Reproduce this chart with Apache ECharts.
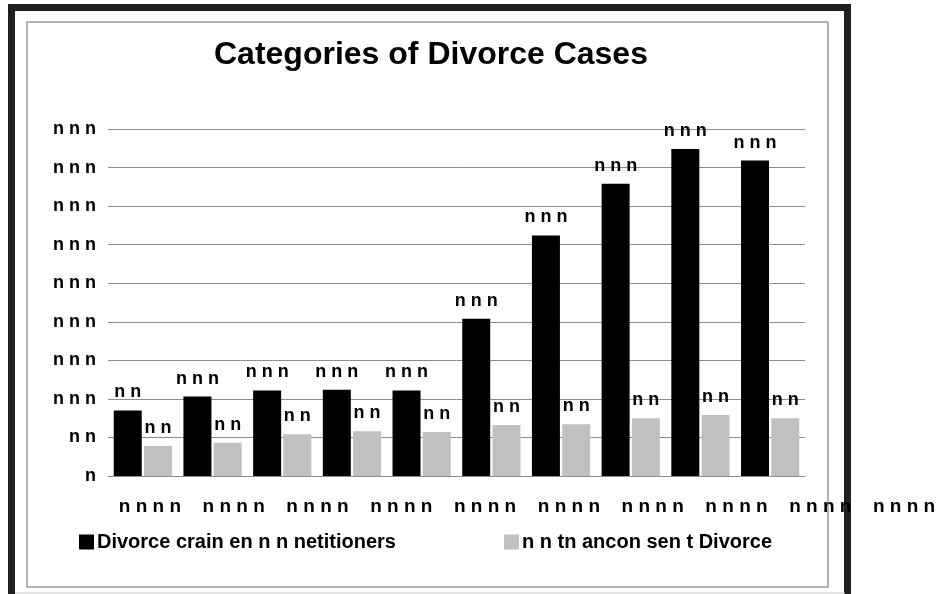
<!DOCTYPE html>
<html>
<head>
<meta charset="utf-8">
<script src="https://cdn.jsdelivr.net/npm/echarts@6/dist/echarts.min.js"></script>
<style>
  html, body { margin: 0; padding: 0; background: #fff; }
  #chart { width: 946px; height: 594px; }
</style>
</head>
<body>
<div id="chart"></div>
<script>
var categories = ['n n n n', 'n n n n', 'n n n n', 'n n n n', 'n n n n',
                  'n n n n', 'n n n n', 'n n n n', 'n n n n', 'n n n n'];
var seriesNames = ['Divorce crain en n n netitioners', 'n n tn ancon sen t Divorce'];
var petitionerCases = [85, 103, 111, 112, 111, 204, 312, 379, 424, 409];
var consentCases = [39, 43, 54, 58, 57, 66, 67, 75, 79, 75];

// digits show up as "n" glyphs in the source picture
function garble(v) {
    return String(Math.round(v)).split('').map(function () { return 'n'; }).join(' ');
}

var FONT = 'Liberation Sans, Arial, sans-serif';
var myChart = echarts.init(document.getElementById('chart'));
var option = {
    backgroundColor: '#fff',
    animation: false,
    title: {
        text: 'Categories of Divorce Cases',
        left: 209,
        top: 34,
        textStyle: { color: '#000', fontSize: 32, fontWeight: 'bold', fontFamily: FONT }
    },
    legend: {
        left: 74,
        top: 527,
        itemWidth: 15,
        itemHeight: 15,
        itemGap: 108,
        icon: 'rect',
        textStyle: { color: '#000', fontSize: 20, fontWeight: 'bold', fontFamily: FONT, padding: [0, 0, 0, -2] },
        data: seriesNames
    },
    grid: [
        { left: 108, right: 141, top: 129, bottom: 118 },
        { left: 108, width: 840, top: 470, height: 20 }
    ],
    xAxis: [{
        type: 'category',
        data: categories,
        gridIndex: 0,
        axisLine: { lineStyle: { color: '#8c8c8c' } },
        axisTick: { show: false },
        axisLabel: { show: false }
    }, {
        type: 'category',
        data: categories,
        gridIndex: 1,
        axisLine: { show: false },
        axisTick: { show: false },
        axisLabel: { color: '#000', fontSize: 19, fontWeight: 'bold', fontFamily: FONT, margin: 7, interval: 0 }
    }],
    yAxis: [{
        type: 'value',
        min: 0,
        max: 450,
        interval: 50,
        axisLine: { show: false },
        axisTick: { show: false },
        splitLine: { lineStyle: { color: '#8c8c8c' } },
        axisLabel: {
            color: '#000', fontSize: 18, fontWeight: 'bold', fontFamily: FONT, margin: 12,
            formatter: garble
        }
    }, {
        type: 'value',
        gridIndex: 1,
        show: false
    }],
    series: [{
        name: seriesNames[0],
        type: 'bar',
        data: petitionerCases,
        barWidth: 28,
        barGap: '8%',
        itemStyle: { color: '#000' },
        label: {
            show: true, position: 'top', distance: 9, color: '#000',
            fontSize: 18, fontWeight: 'bold', fontFamily: FONT,
            formatter: function (p) { return garble(p.value); }
        }
    }, {
        name: seriesNames[1],
        type: 'bar',
        data: consentCases,
        barWidth: 28,
        itemStyle: { color: '#c0c0c0' },
        label: {
            show: true, position: 'top', distance: 9, color: '#000',
            fontSize: 18, fontWeight: 'bold', fontFamily: FONT,
            formatter: function (p) { return garble(p.value); }
        }
    }],
    graphic: [
        // outer dark frame
        { type: 'rect', z: -10, shape: { x: 11.5, y: 7.5, width: 836, height: 600 },
          style: { fill: 'none', stroke: '#231f20', lineWidth: 7 } },
        // inner grey frame
        { type: 'rect', z: -10, shape: { x: 27, y: 22, width: 801, height: 565 },
          style: { fill: 'none', stroke: '#999', lineWidth: 1.5 } },
        { type: 'line', z: -10, shape: { x1: 15, y1: 593, x2: 845, y2: 593 },
          style: { stroke: '#c8c8c8', lineWidth: 1 } }
    ]
};
myChart.setOption(option);
window.onresize = myChart.resize;
</script>
</body>
</html>
